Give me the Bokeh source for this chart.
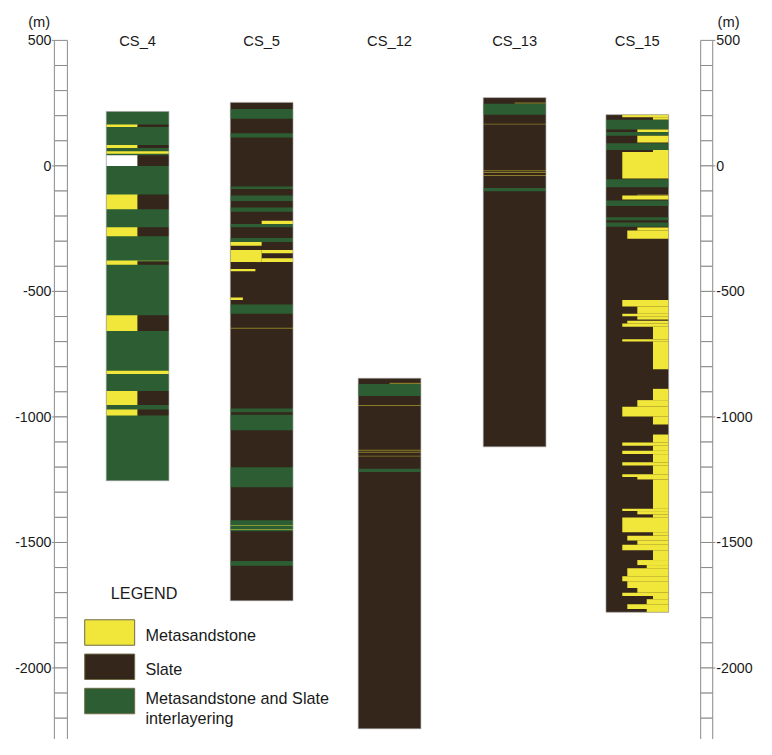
from bokeh.plotting import figure
from bokeh.models import Range1d
from bokeh.embed import file_html
from bokeh.resources import INLINE
from bokeh.core.properties import value

# ---------------- data ----------------
boreholes = ["CS_4", "CS_5", "CS_12", "CS_13", "CS_15"]
hole_top = [217, 253, -846, 272, 204]          # elevation (m)
hole_bottom = [-1254, -1732, -2242, -1119, -1778]
hole_base = ["I", "S", "S", "S", "S"]          # dominant lithology

# layers: (top, bottom, x-start fraction, x-end fraction, lithology)
cs4_layers = [
    (165, 155, 0.0, 0.5, "M"), (165, 155, 0.5, 1.0, "S"),
    (83, 71, 0.0, 0.5, "M"), (83, 71, 0.5, 1.0, "S"),
    (58, 48, 0.0, 1.0, "M"),
    (42, 0, 0.0, 0.5, "N"), (42, 0, 0.5, 1.0, "S"),
    (-114, -173, 0.0, 0.5, "M"), (-114, -173, 0.5, 1.0, "S"),
    (-244, -280, 0.0, 0.5, "M"), (-244, -280, 0.5, 1.0, "S"),
    (-377, -394, 0.0, 0.5, "M"), (-377, -381, 0.5, 1.0, "M"), (-381, -394, 0.5, 1.0, "S"),
    (-595, -658, 0.0, 0.5, "M"), (-595, -658, 0.5, 1.0, "S"),
    (-816, -829, 0.0, 1.0, "M"),
    (-897, -952, 0.0, 0.5, "M"), (-897, -952, 0.5, 1.0, "S"),
    (-970, -994, 0.0, 0.5, "M"), (-970, -994, 0.5, 1.0, "S"),
]
cs5_layers = [
    (227, 188, 0.0, 1.0, "I"), (130, 113, 0.0, 1.0, "I"),
    (-82, -92, 0.0, 1.0, "I"), (-118, -140, 0.0, 1.0, "I"),
    (-166, -183, 0.0, 1.0, "I"), (-218, -231, 0.5, 1.0, "M"),
    (-231, -244, 0.0, 1.0, "I"), (-287, -303, 0.0, 1.0, "I"),
    (-303, -318, 0.0, 0.5, "M"), (-335, -383, 0.0, 0.5, "M"),
    (-335, -348, 0.5, 1.0, "M"), (-368, -383, 0.5, 1.0, "M"),
    (-411, -420, 0.0, 0.4, "M"), (-524, -534, 0.0, 0.2, "M"),
    (-552, -589, 0.0, 1.0, "I"), (-645, -649, 0.0, 1.0, "M"),
    (-966, -981, 0.0, 1.0, "I"), (-991, -1053, 0.0, 1.0, "I"),
    (-1200, -1280, 0.0, 1.0, "I"), (-1411, -1455, 0.0, 1.0, "I"),
    (-1430, -1434, 0.0, 1.0, "M"), (-1446, -1450, 0.0, 1.0, "M"),
    (-1574, -1593, 0.0, 1.0, "I"),
]
cs12_layers = [
    (-864, -869, 0.5, 1.0, "M"), (-869, -917, 0.0, 1.0, "I"),
    (-952, -956, 0.0, 1.0, "M"), (-1131, -1135, 0.0, 1.0, "M"),
    (-1139, -1143, 0.0, 1.0, "M"), (-1155, -1158, 0.0, 1.0, "M"),
    (-1206, -1219, 0.0, 1.0, "I"),
]
cs13_layers = [
    (253, 248, 0.5, 1.0, "M"), (248, 204, 0.0, 1.0, "I"),
    (168, 165, 0.0, 1.0, "M"), (-17, -21, 0.0, 1.0, "M"),
    (-24, -28, 0.0, 1.0, "M"), (-36, -40, 0.0, 1.0, "M"),
    (-88, -101, 0.0, 1.0, "I"),
]
cs15_layers = [
    (204, 194, 0.26, 1.0, "M"), (194, 184, 0.75, 1.0, "M"),
    (184, 145, 0.0, 1.0, "I"), (145, 135, 0.5, 1.0, "M"),
    (135, 120, 0.0, 1.0, "I"), (120, 93, 0.5, 1.0, "M"),
    (90, 63, 0.0, 1.0, "I"), (63, 55, 0.75, 1.0, "M"),
    (55, -50, 0.26, 1.0, "M"), (-53, -85, 0.0, 1.0, "I"),
    (-114, -118, 0.5, 1.0, "M"), (-118, -134, 0.26, 1.0, "M"),
    (-138, -160, 0.0, 1.0, "I"), (-205, -216, 0.0, 1.0, "I"),
    (-225, -242, 0.0, 1.0, "I"), (-245, -257, 0.5, 1.0, "M"),
    (-257, -290, 0.34, 1.0, "M"),
    (-534, -560, 0.26, 1.0, "M"), (-560, -589, 0.5, 1.0, "M"),
    (-589, -599, 0.26, 1.0, "M"), (-599, -612, 0.5, 1.0, "M"),
    (-617, -628, 0.34, 1.0, "M"), (-628, -641, 0.26, 1.0, "M"),
    (-641, -690, 0.75, 1.0, "M"), (-690, -699, 0.26, 1.0, "M"),
    (-699, -810, 0.75, 1.0, "M"), (-888, -933, 0.75, 1.0, "M"),
    (-933, -959, 0.5, 1.0, "M"), (-959, -998, 0.26, 1.0, "M"),
    (-998, -1030, 0.75, 1.0, "M"), (-1070, -1102, 0.75, 1.0, "M"),
    (-1102, -1115, 0.26, 1.0, "M"), (-1115, -1135, 0.75, 1.0, "M"),
    (-1135, -1148, 0.26, 1.0, "M"), (-1148, -1180, 0.75, 1.0, "M"),
    (-1180, -1193, 0.26, 1.0, "M"), (-1193, -1228, 0.75, 1.0, "M"),
    (-1228, -1239, 0.26, 1.0, "M"), (-1239, -1249, 0.5, 1.0, "M"),
    (-1249, -1366, 0.75, 1.0, "M"), (-1366, -1375, 0.26, 1.0, "M"),
    (-1375, -1388, 0.5, 1.0, "M"), (-1388, -1401, 0.75, 1.0, "M"),
    (-1401, -1459, 0.26, 1.0, "M"), (-1459, -1473, 0.75, 1.0, "M"),
    (-1473, -1492, 0.34, 1.0, "M"), (-1492, -1509, 0.5, 1.0, "M"),
    (-1509, -1531, 0.26, 1.0, "M"), (-1531, -1570, 0.75, 1.0, "M"),
    (-1570, -1590, 0.5, 1.0, "M"), (-1590, -1603, 0.65, 1.0, "M"),
    (-1603, -1635, 0.34, 1.0, "M"), (-1635, -1654, 0.26, 1.0, "M"),
    (-1654, -1681, 0.34, 1.0, "M"), (-1681, -1700, 0.5, 1.0, "M"),
    (-1700, -1713, 0.26, 1.0, "M"), (-1713, -1726, 0.75, 1.0, "M"),
    (-1726, -1746, 0.65, 1.0, "M"), (-1746, -1765, 0.34, 1.0, "M"),
    (-1765, -1778, 0.65, 1.0, "M"),
]
hole_layers = [cs4_layers, cs5_layers, cs12_layers, cs13_layers, cs15_layers]

legend_codes = ["M", "S", "I"]
legend_labels = ["Metasandstone", "Slate", "Metasandstone and Slate\ninterlayering"]

scale_ticks = [500, 0, -500, -1000, -1500, -2000]
scale_labels = ["500", "0", "-500", "-1000", "-1500", "-2000"]
scale_cells = [500 - 100 * k for k in range(29)]   # 100 m ladder cells

# ---------------- style / layout ----------------
lith_color = {"M": "#F1E73A", "S": "#35261B", "I": "#2D5E33", "N": "#FFFFFF"}
FONT = "Liberation Sans"
W, H = 756, 739                 # figure size (fits the window)
REF_W, REF_H = 772, 755         # layout reference frame
TOP_E, PX_M = 658.9, 3.899      # elevation at top of frame, metres per frame pixel
FS = W / REF_W                  # font scale


def fs(px):
    return "%.1fpx" % (px * FS)


def ey(py):  # frame pixel row -> elevation (layout placement only)
    return TOP_E - py * PX_M


col_center = [140, 266.7, 397.3, 525, 650.3]
col_w = 64

p = figure(width=W, height=H, output_backend="svg", toolbar_location=None,
           x_range=Range1d(0, REF_W), y_range=Range1d(ey(REF_H), TOP_E),
           x_axis_location=None, y_axis_location=None, min_border=0)
p.grid.visible = False
p.outline_line_color = None
p.background_fill_color = "white"
p.border_fill_color = "white"

# depth ladders (left and right)
for (l, r) in [(55, 68.3), (715, 727.3)]:
    p.quad(left=l, right=r, top=scale_cells, bottom=[c - 100 for c in scale_cells],
           fill_color="white", line_color="#8a8a8a", line_width=1)
p.segment(x0=52.5, x1=55, y0=scale_ticks, y1=scale_ticks, line_color="#8a8a8a", line_width=1)
p.segment(x0=727.3, x1=730, y0=scale_ticks, y1=scale_ticks, line_color="#8a8a8a", line_width=1)
p.text(x=52, y=scale_ticks, text=scale_labels, text_align="right", text_baseline="middle",
       text_font=value(FONT), text_font_size=fs(14.5), text_color="#1a1a1a")
p.text(x=731, y=scale_ticks, text=scale_labels, text_align="left", text_baseline="middle",
       text_font=value(FONT), text_font_size=fs(14.5), text_color="#1a1a1a")
p.text(x=[39.5, 743.5], y=[ey(21.7)] * 2, text=["(m)", "(m)"], text_align="center",
       text_baseline="middle", text_font=value(FONT), text_font_size=fs(15), text_color="#1a1a1a")

# borehole columns
for i, name in enumerate(boreholes):
    left = col_center[i] - col_w / 2
    p.quad(left=[left], right=[left + col_w], top=[hole_top[i]], bottom=[hole_bottom[i]],
           fill_color=lith_color[hole_base[i]], line_color=None)
    lay = hole_layers[i]
    p.quad(left=[left + col_w * t[2] for t in lay], right=[left + col_w * t[3] for t in lay],
           top=[t[0] for t in lay], bottom=[t[1] for t in lay],
           fill_color=[lith_color[t[4]] for t in lay],
           fill_alpha=[0.45 if (t[0] - t[1]) <= 5 else 1.0 for t in lay], line_color=None)
    p.quad(left=[left], right=[left + col_w], top=[hole_top[i]], bottom=[hole_bottom[i]],
           fill_color=None, line_color="#a0a0a0", line_width=0.6)
p.text(x=col_center, y=[ey(41.7)] * len(boreholes), text=boreholes, text_align="center",
       text_baseline="middle", text_font=value(FONT), text_font_size=fs(15), text_color="#1a1a1a")

# legend
p.text(x=[112.7], y=[ey(605.7)], text=["LEGEND"], text_align="left", text_baseline="middle",
       text_font=value(FONT), text_font_size=fs(16.5), text_color="#1a1a1a")
sw_top = [632.7, 667.7, 702.7]
p.quad(left=86, right=137, top=[ey(t) for t in sw_top], bottom=[ey(t + 26) for t in sw_top],
       fill_color=[lith_color[c] for c in legend_codes], line_color="#6f6a45", line_width=1)
lx, ly, lt = [], [], []
for k, lab in enumerate(legend_labels):
    lines = lab.split("\n")
    first = sw_top[k] + 15.3 if len(lines) == 1 else sw_top[k] + 10
    for j, s in enumerate(lines):
        lx.append(148)
        ly.append(ey(first + 20.6 * j))
        lt.append(s)
p.text(x=lx, y=ly, text=lt, text_align="left", text_baseline="middle",
       text_font=value(FONT), text_font_size=fs(16.5), text_color="#1a1a1a")

open("out.html", "w").write(file_html(p, INLINE))
